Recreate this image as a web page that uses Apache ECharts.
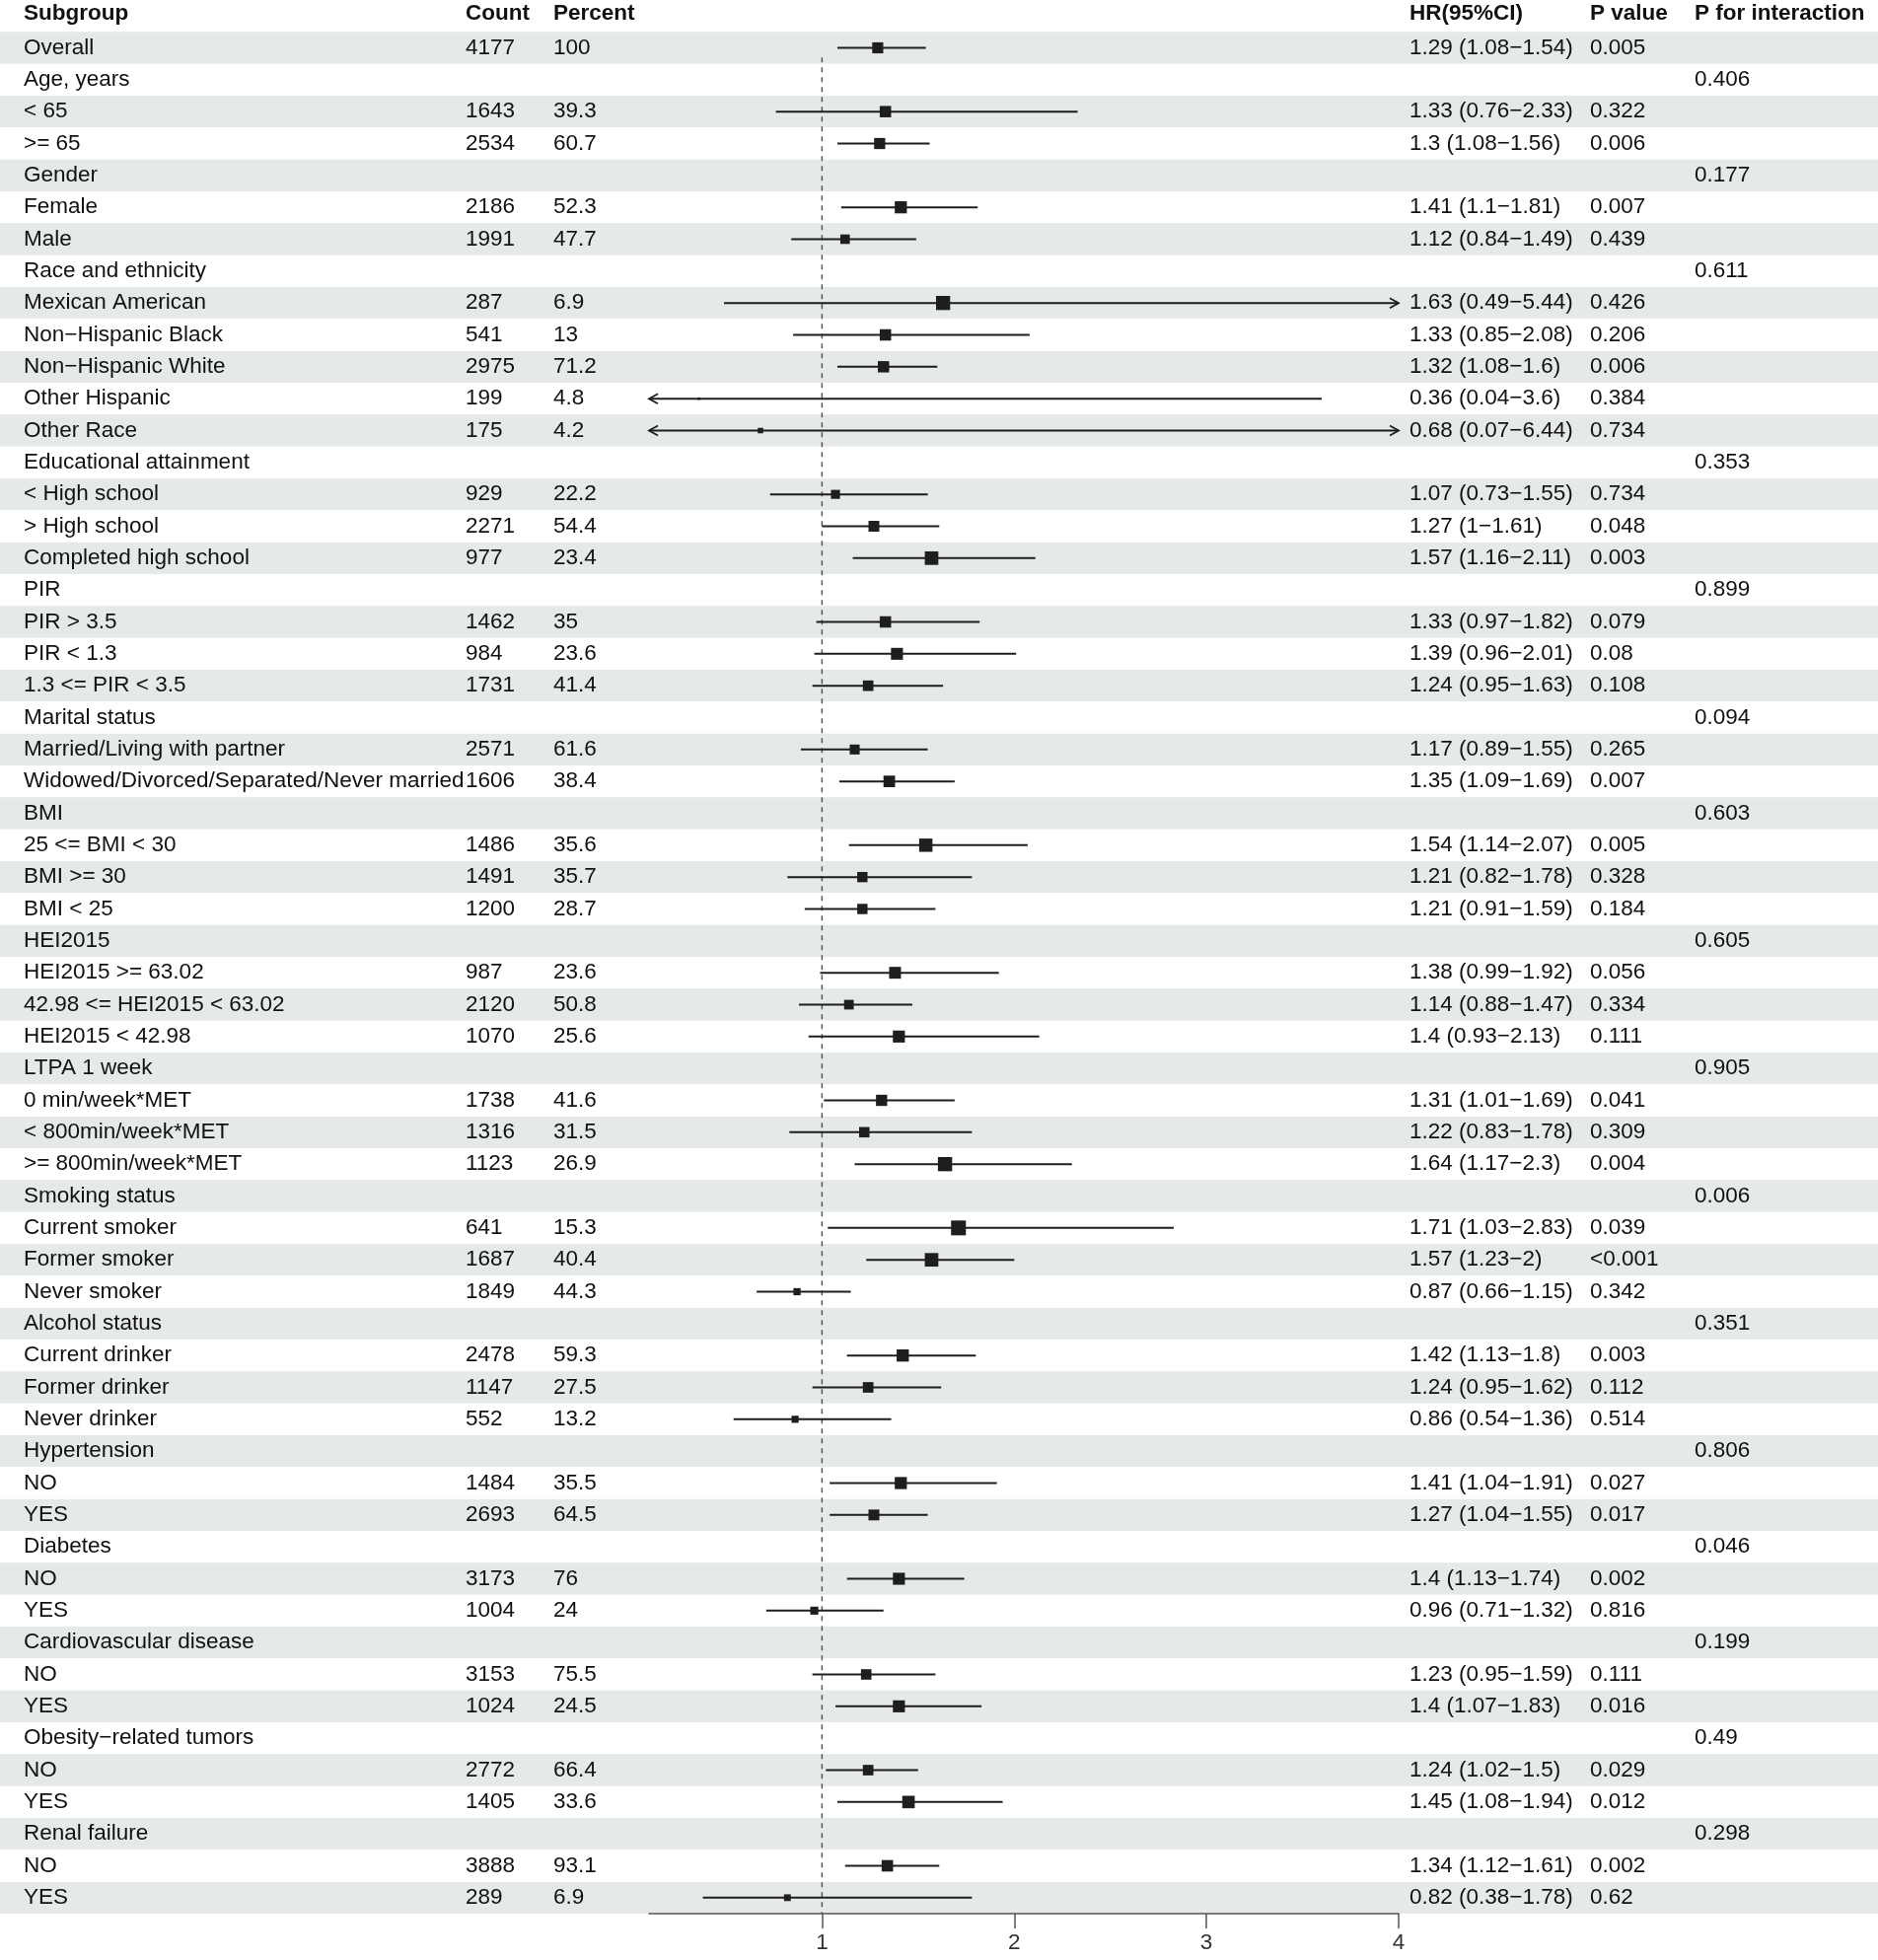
<!DOCTYPE html>
<html>
<head>
<meta charset="utf-8">
<script src="https://cdn.jsdelivr.net/npm/echarts@6/dist/echarts.min.js"></script>
<style>
html, body { margin: 0; padding: 0; background: #fff; }
#chart { width: 1904px; height: 1987px; }
</style>
</head>
<body>
<div id="chart"></div>
<script>
var M = '\u2212';

// table data, one entry per row (null = empty cell)
var subgroups = [
    'Overall',
    'Age, years', '< 65', '>= 65',
    'Gender', 'Female', 'Male',
    'Race and ethnicity', 'Mexican American', 'Non' + M + 'Hispanic Black', 'Non' + M + 'Hispanic White', 'Other Hispanic', 'Other Race',
    'Educational attainment', '< High school', '> High school', 'Completed high school',
    'PIR', 'PIR > 3.5', 'PIR < 1.3', '1.3 <= PIR < 3.5',
    'Marital status', 'Married/Living with partner', 'Widowed/Divorced/Separated/Never married',
    'BMI', '25 <= BMI < 30', 'BMI >= 30', 'BMI < 25',
    'HEI2015', 'HEI2015 >= 63.02', '42.98 <= HEI2015 < 63.02', 'HEI2015 < 42.98',
    'LTPA 1 week', '0 min/week*MET', '< 800min/week*MET', '>= 800min/week*MET',
    'Smoking status', 'Current smoker', 'Former smoker', 'Never smoker',
    'Alcohol status', 'Current drinker', 'Former drinker', 'Never drinker',
    'Hypertension', 'NO', 'YES',
    'Diabetes', 'NO', 'YES',
    'Cardiovascular disease', 'NO', 'YES',
    'Obesity' + M + 'related tumors', 'NO', 'YES',
    'Renal failure', 'NO', 'YES'
];
var counts = [
    4177,
    null, 1643, 2534,
    null, 2186, 1991,
    null, 287, 541, 2975, 199, 175,
    null, 929, 2271, 977,
    null, 1462, 984, 1731,
    null, 2571, 1606,
    null, 1486, 1491, 1200,
    null, 987, 2120, 1070,
    null, 1738, 1316, 1123,
    null, 641, 1687, 1849,
    null, 2478, 1147, 552,
    null, 1484, 2693,
    null, 3173, 1004,
    null, 3153, 1024,
    null, 2772, 1405,
    null, 3888, 289
];
var percents = [
    100,
    null, 39.3, 60.7,
    null, 52.3, 47.7,
    null, 6.9, 13, 71.2, 4.8, 4.2,
    null, 22.2, 54.4, 23.4,
    null, 35, 23.6, 41.4,
    null, 61.6, 38.4,
    null, 35.6, 35.7, 28.7,
    null, 23.6, 50.8, 25.6,
    null, 41.6, 31.5, 26.9,
    null, 15.3, 40.4, 44.3,
    null, 59.3, 27.5, 13.2,
    null, 35.5, 64.5,
    null, 76, 24,
    null, 75.5, 24.5,
    null, 66.4, 33.6,
    null, 93.1, 6.9
];
var hr = [
    1.29,
    null, 1.33, 1.3,
    null, 1.41, 1.12,
    null, 1.63, 1.33, 1.32, 0.36, 0.68,
    null, 1.07, 1.27, 1.57,
    null, 1.33, 1.39, 1.24,
    null, 1.17, 1.35,
    null, 1.54, 1.21, 1.21,
    null, 1.38, 1.14, 1.4,
    null, 1.31, 1.22, 1.64,
    null, 1.71, 1.57, 0.87,
    null, 1.42, 1.24, 0.86,
    null, 1.41, 1.27,
    null, 1.4, 0.96,
    null, 1.23, 1.4,
    null, 1.24, 1.45,
    null, 1.34, 0.82
];
var lower = [
    1.08,
    null, 0.76, 1.08,
    null, 1.1, 0.84,
    null, 0.49, 0.85, 1.08, 0.04, 0.07,
    null, 0.73, 1, 1.16,
    null, 0.97, 0.96, 0.95,
    null, 0.89, 1.09,
    null, 1.14, 0.82, 0.91,
    null, 0.99, 0.88, 0.93,
    null, 1.01, 0.83, 1.17,
    null, 1.03, 1.23, 0.66,
    null, 1.13, 0.95, 0.54,
    null, 1.04, 1.04,
    null, 1.13, 0.71,
    null, 0.95, 1.07,
    null, 1.02, 1.08,
    null, 1.12, 0.38
];
var upper = [
    1.54,
    null, 2.33, 1.56,
    null, 1.81, 1.49,
    null, 5.44, 2.08, 1.6, 3.6, 6.44,
    null, 1.55, 1.61, 2.11,
    null, 1.82, 2.01, 1.63,
    null, 1.55, 1.69,
    null, 2.07, 1.78, 1.59,
    null, 1.92, 1.47, 2.13,
    null, 1.69, 1.78, 2.3,
    null, 2.83, 2, 1.15,
    null, 1.8, 1.62, 1.36,
    null, 1.91, 1.55,
    null, 1.74, 1.32,
    null, 1.59, 1.83,
    null, 1.5, 1.94,
    null, 1.61, 1.78
];
var pValues = [
    '0.005',
    null, '0.322', '0.006',
    null, '0.007', '0.439',
    null, '0.426', '0.206', '0.006', '0.384', '0.734',
    null, '0.734', '0.048', '0.003',
    null, '0.079', '0.08', '0.108',
    null, '0.265', '0.007',
    null, '0.005', '0.328', '0.184',
    null, '0.056', '0.334', '0.111',
    null, '0.041', '0.309', '0.004',
    null, '0.039', '<0.001', '0.342',
    null, '0.003', '0.112', '0.514',
    null, '0.027', '0.017',
    null, '0.002', '0.816',
    null, '0.111', '0.016',
    null, '0.029', '0.012',
    null, '0.002', '0.62'
];
var pInteraction = [
    null,
    '0.406', null, null,
    '0.177', null, null,
    '0.611', null, null, null, null, null,
    '0.353', null, null, null,
    '0.899', null, null, null,
    '0.094', null, null,
    '0.603', null, null, null,
    '0.605', null, null, null,
    '0.905', null, null, null,
    '0.006', null, null, null,
    '0.351', null, null, null,
    '0.806', null, null,
    '0.046', null, null,
    '0.199', null, null,
    '0.49', null, null,
    '0.298', null, null
];
var headers = ['Subgroup', 'Count', 'Percent', 'HR(95%CI)', 'P value', 'P for interaction'];
var axisTicks = [1, 2, 3, 4];
var refValue = 1;
var xMin = 0.1, xMax = 4;

// layout
var W = 1904;
var colX = [24, 472, 561, 1429, 1612, 1718];
var FONT = '"Liberation Sans", Arial, Helvetica, sans-serif';
var FS = 22.5;

var hrText = hr.map(function (v, i) {
    if (v == null) return null;
    return v + ' (' + lower[i] + M + upper[i] + ')';
});

var columns = [subgroups, counts, percents, hrText, pValues, pInteraction];
var rowCount = subgroups.length + 1; // + header row
var rowNames = [];
for (var r = 0; r < rowCount; r++) rowNames.push('r' + r);

var textSeries = function (x, values, header) {
    var data = [], texts = [];
    data.push([x, 0]);
    texts.push({ t: header, bold: true });
    for (var i = 0; i < values.length; i++) {
        if (values[i] == null) continue;
        data.push([x, i + 1]);
        texts.push({ t: String(values[i]), bold: false });
    }
    return {
        type: 'custom',
        xAxisIndex: 0,
        yAxisIndex: 0,
        silent: true,
        data: data,
        renderItem: function (params, api) {
            var p = api.coord([api.value(0), api.value(1)]);
            var it = texts[params.dataIndex];
            return {
                type: 'text',
                x: p[0],
                y: p[1] - (it.bold ? 2 : 0),
                style: {
                    text: it.t,
                    fill: '#111',
                    fontSize: FS,
                    fontFamily: FONT,
                    fontWeight: it.bold ? 'bold' : 'normal',
                    align: 'left',
                    verticalAlign: 'middle'
                }
            };
        }
    };
};

var forestData = [];
for (var i = 0; i < hr.length; i++) {
    if (hr[i] == null) continue;
    forestData.push([hr[i], i + 1, lower[i], upper[i]]);
}

var renderForest = function (params, api) {
    var est = api.value(0), row = api.value(1), lo = api.value(2), hi = api.value(3);
    var p0 = api.coord([Math.max(lo, xMin), row]);
    var p1 = api.coord([Math.min(hi, xMax), row]);
    var pc = api.coord([est, row]);
    var s = 9.2 * est - 0.7;   // box grows with the estimate, as in the original
    var ink = '#1e1e1e';
    var kids = [{
        type: 'line',
        shape: { x1: p0[0], y1: p0[1], x2: p1[0], y2: p1[1] },
        style: { stroke: ink, lineWidth: 2 }
    }];
    if (lo < xMin) {
        kids.push({
            type: 'polyline',
            shape: { points: [[p0[0] + 9, p0[1] - 5], [p0[0], p0[1]], [p0[0] + 9, p0[1] + 5]] },
            style: { stroke: ink, lineWidth: 1.8, fill: null }
        });
    }
    if (hi > xMax) {
        kids.push({
            type: 'polyline',
            shape: { points: [[p1[0] - 9, p1[1] - 5], [p1[0], p1[1]], [p1[0] - 9, p1[1] + 5]] },
            style: { stroke: ink, lineWidth: 1.8, fill: null }
        });
    }
    kids.push({
        type: 'rect',
        shape: { x: pc[0] - s / 2, y: pc[1] - s / 2, width: s, height: s },
        style: { fill: ink }
    });
    return { type: 'group', children: kids };
};

var series = [];
for (var c = 0; c < columns.length; c++) {
    series.push(textSeries(colX[c], columns[c], headers[c]));
}
series.push({
    type: 'line',
    xAxisIndex: 1,
    yAxisIndex: 1,
    silent: true,
    symbol: 'none',
    data: [[refValue, 1.3], [refValue, rowCount - 0.5]],
    lineStyle: { color: '#555', width: 1.5, type: [5, 5] },
    z: 3
});
series.push({
    type: 'custom',
    xAxisIndex: 1,
    yAxisIndex: 1,
    silent: true,
    clip: false,
    data: forestData,
    encode: { x: [0, 2, 3], y: 1 },
    renderItem: renderForest,
    z: 4
});

var chart = echarts.init(document.getElementById('chart'), null, { renderer: 'canvas' });
chart.setOption({
    animation: false,
    backgroundColor: '#fff',
    textStyle: { fontFamily: FONT },
    grid: [
        { left: 0, right: 0, top: 0, bottom: 47 },
        { left: 658, right: W - 1418, top: 0, bottom: 47 }
    ],
    xAxis: [{
        gridIndex: 0, type: 'value', min: 0, max: W, show: false
    }, {
        gridIndex: 1, type: 'value', min: xMin, max: xMax, position: 'bottom',
        axisLine: { onZero: false, lineStyle: { color: '#555', width: 1.5 } },
        axisTick: { customValues: axisTicks, length: 15, lineStyle: { color: '#555', width: 1.5 } },
        axisLabel: { customValues: axisTicks, fontSize: FS, color: '#333', margin: 18, fontFamily: FONT },
        splitLine: { show: false }
    }],
    yAxis: [{
        gridIndex: 0, type: 'category', inverse: true, data: rowNames,
        axisLine: { show: false }, axisTick: { show: false }, axisLabel: { show: false },
        splitLine: { show: false },
        splitArea: { show: true, interval: 0, areaStyle: { color: ['#ffffff', '#e5e9e8'] } }
    }, {
        gridIndex: 1, type: 'value', inverse: true, min: -0.5, max: rowCount - 0.5, show: false
    }],
    series: series
});
</script>
</body>
</html>
